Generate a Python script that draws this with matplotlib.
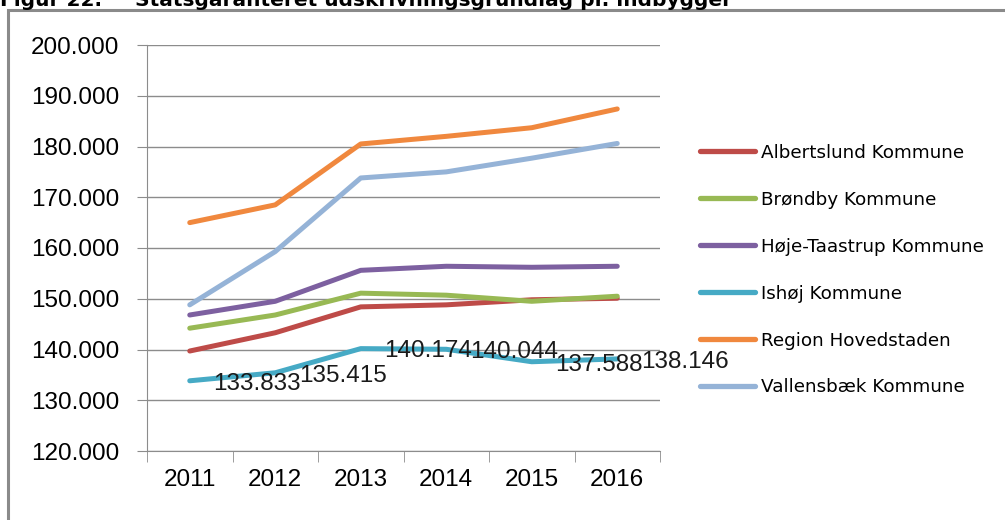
import numpy as np
import matplotlib
matplotlib.use("Agg")
import matplotlib.pyplot as plt
from matplotlib.patches import Rectangle

years = ["2011", "2012", "2013", "2014", "2015", "2016"]
albertslund = [139.7, 143.3, 148.4, 148.8, 149.8, 150.1]
broendby = [144.2, 146.8, 151.1, 150.7, 149.5, 150.5]
hoeje_taastrup = [146.8, 149.5, 155.6, 156.4, 156.2, 156.4]
ishoej = [133.833, 135.415, 140.174, 140.044, 137.588, 138.146]
region_hovedstaden = [165.0, 168.5, 180.5, 182.0, 183.7, 187.4]
vallensbaek = [148.8, 159.3, 173.8, 175.0, 177.7, 180.6]

series = [
    ("Albertslund Kommune", albertslund, "#BE4B48"),
    ("Brøndby Kommune", broendby, "#98B954"),
    ("Høje-Taastrup Kommune", hoeje_taastrup, "#7D60A0"),
    ("Ishøj Kommune", ishoej, "#46AAC5"),
    ("Region Hovedstaden", region_hovedstaden, "#F0883E"),
    ("Vallensbæk Kommune", vallensbaek, "#95B3D7"),
]

tick_font = ["Liberation Sans", "DejaVu Sans"]
tick_size = 17.5

fig = plt.figure(figsize=(10.05, 5.2), dpi=100)
fig.patch.set_facecolor("white")

# grå ramme rundt om figuren
fig.patches.append(Rectangle((8 / 1005, -0.01), 1.2, 1 - 10 / 520 + 0.01,
                             transform=fig.transFigure, fill=False,
                             edgecolor="#8a8a8a", linewidth=2.2))
# overskrift, skåret af i toppen
fig.text(0.0, 1 - 6 / 520, "Figur 22.", fontsize=14.5, fontweight="bold",
         family="DejaVu Sans", va="baseline")
fig.text(135 / 1005, 1 - 6 / 520, "Statsgaranteret udskrivningsgrundlag pr. indbygger",
         fontsize=14.5, fontweight="bold", family="DejaVu Sans", va="baseline")

ax = fig.add_axes([147 / 1005, 1 - 451 / 520, (660 - 147) / 1005, (451 - 45) / 520])
x = np.arange(len(years))
for name, vals, col in series:
    ax.plot(x, vals, color=col, linewidth=3.6, label=name, solid_capstyle="round")

# dataetiketter for Ishøj
for xi, v in zip(x, ishoej):
    ax.annotate(f"{v:.3f}", (xi, v), xytext=(17, -2), textcoords="offset points",
                ha="left", va="center", fontsize=tick_size, family=tick_font,
                color="#1a1a1a")

ax.set_xlim(-0.5, len(years) - 0.5)
ax.set_ylim(120, 200)
ax.set_yticks(np.arange(120, 201, 10))
ax.set_yticklabels([f"{v}.000" for v in range(120, 201, 10)], fontsize=tick_size,
                   family=tick_font)
ax.yaxis.grid(True, color="#8c8c8c", linewidth=1)
ax.set_axisbelow(True)

ax.set_xticks(x)
ax.set_xticklabels(years, fontsize=tick_size, family=tick_font)
ax.set_xticks(np.arange(-0.5, len(years)), minor=True)
ax.tick_params(axis="x", which="major", length=0, pad=13)
ax.tick_params(axis="x", which="minor", length=8, color="#8c8c8c")
ax.tick_params(axis="y", length=7, color="#8c8c8c", pad=13)

for s in ["top", "right"]:
    ax.spines[s].set_visible(False)
for s in ["left", "bottom"]:
    ax.spines[s].set_color("#8c8c8c")

leg = ax.legend(loc="upper left", bbox_to_anchor=(1.077, 0.757), frameon=False,
                prop={"family": "DejaVu Sans", "size": 13.2},
                handlelength=3.05, handletextpad=0.3, labelspacing=1.58,
                borderpad=0.0, borderaxespad=0.0)
for h in leg.get_lines():
    h.set_linewidth(3.8)

fig.savefig("out.png", dpi=100)
